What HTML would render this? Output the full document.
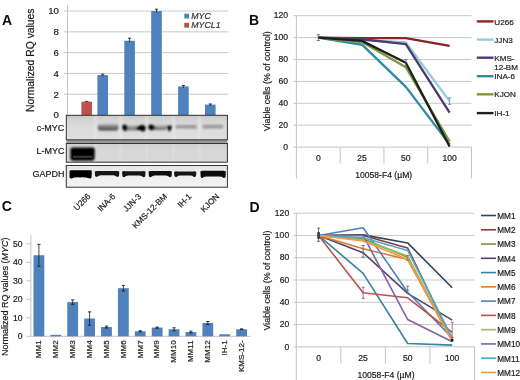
<!DOCTYPE html>
<html><head><meta charset="utf-8"><style>
html,body{margin:0;padding:0;background:#fff;}
svg{display:block;font-family:"Liberation Sans", sans-serif;will-change:transform;filter:blur(0.35px);}
</style></head><body>
<svg width="520" height="380" viewBox="0 0 520 380">
<rect width="520" height="380" fill="#fff"/>
<text x="1.9" y="24.7" font-size="14" text-anchor="start" font-weight="bold" fill="#0a0a0a">A</text>
<text x="34.1" y="60.2" font-size="10.35" text-anchor="middle" fill="#1c1c1c" stroke="#1c1c1c" stroke-width="0.2" transform="rotate(-90 34.1 60.2)">Normalized RQ values</text>
<line x1="67.5" y1="11.050000000000011" x2="228.5" y2="11.050000000000011" stroke="#c8c8c8" stroke-width="1"/>
<line x1="64" y1="11.050000000000011" x2="67.5" y2="11.050000000000011" stroke="#c4c4c4" stroke-width="1"/>
<line x1="67.5" y1="31.840000000000003" x2="228.5" y2="31.840000000000003" stroke="#c8c8c8" stroke-width="1"/>
<line x1="64" y1="31.840000000000003" x2="67.5" y2="31.840000000000003" stroke="#c4c4c4" stroke-width="1"/>
<line x1="67.5" y1="52.63" x2="228.5" y2="52.63" stroke="#c8c8c8" stroke-width="1"/>
<line x1="64" y1="52.63" x2="67.5" y2="52.63" stroke="#c4c4c4" stroke-width="1"/>
<line x1="67.5" y1="73.42" x2="228.5" y2="73.42" stroke="#c8c8c8" stroke-width="1"/>
<line x1="64" y1="73.42" x2="67.5" y2="73.42" stroke="#c4c4c4" stroke-width="1"/>
<line x1="67.5" y1="94.21000000000001" x2="228.5" y2="94.21000000000001" stroke="#c8c8c8" stroke-width="1"/>
<line x1="64" y1="94.21000000000001" x2="67.5" y2="94.21000000000001" stroke="#c4c4c4" stroke-width="1"/>
<text x="58.9" y="14.45" font-size="9.6" text-anchor="end" fill="#1c1c1c" stroke="#1c1c1c" stroke-width="0.2">10</text>
<text x="58.9" y="35.24" font-size="9.6" text-anchor="end" fill="#1c1c1c" stroke="#1c1c1c" stroke-width="0.2">8</text>
<text x="58.9" y="56.03" font-size="9.6" text-anchor="end" fill="#1c1c1c" stroke="#1c1c1c" stroke-width="0.2">6</text>
<text x="58.9" y="76.82" font-size="9.6" text-anchor="end" fill="#1c1c1c" stroke="#1c1c1c" stroke-width="0.2">4</text>
<text x="58.9" y="97.61" font-size="9.6" text-anchor="end" fill="#1c1c1c" stroke="#1c1c1c" stroke-width="0.2">2</text>
<text x="58.9" y="118.4" font-size="9.6" text-anchor="end" fill="#1c1c1c" stroke="#1c1c1c" stroke-width="0.2">0</text>
<line x1="67.5" y1="5.5" x2="67.5" y2="115" stroke="#c4c4c4" stroke-width="1"/>
<rect x="81.39999999999999" y="101.6944" width="10.6" height="13.305599999999998" fill="#c0504d"/>
<line x1="85.1" y1="101.38255" x2="88.29999999999998" y2="101.38255" stroke="#1a1a1a" stroke-width="0.9"/>
<rect x="97.39999999999999" y="75.0832" width="10.6" height="39.916799999999995" fill="#4f81bd"/>
<line x1="102.69999999999999" y1="74.15950000000001" x2="102.69999999999999" y2="76.5832" stroke="#1a1a1a" stroke-width="0.8"/>
<line x1="101.1" y1="74.15950000000001" x2="104.29999999999998" y2="74.15950000000001" stroke="#1a1a1a" stroke-width="0.9"/>
<rect x="124.3" y="40.779700000000005" width="10.6" height="74.2203" fill="#4f81bd"/>
<line x1="129.6" y1="38.192800000000005" x2="129.6" y2="42.279700000000005" stroke="#1a1a1a" stroke-width="0.8"/>
<line x1="128.0" y1="38.192800000000005" x2="131.2" y2="38.192800000000005" stroke="#1a1a1a" stroke-width="0.9"/>
<rect x="151.2" y="11.050000000000011" width="10.6" height="103.94999999999999" fill="#4f81bd"/>
<line x1="156.5" y1="9.190750000000005" x2="156.5" y2="12.550000000000011" stroke="#1a1a1a" stroke-width="0.8"/>
<line x1="154.9" y1="9.190750000000005" x2="158.1" y2="9.190750000000005" stroke="#1a1a1a" stroke-width="0.9"/>
<rect x="178.10000000000002" y="86.41375" width="10.6" height="28.586250000000007" fill="#4f81bd"/>
<line x1="183.40000000000003" y1="85.59400000000001" x2="183.40000000000003" y2="87.91375" stroke="#1a1a1a" stroke-width="0.8"/>
<line x1="181.80000000000004" y1="85.59400000000001" x2="185.00000000000003" y2="85.59400000000001" stroke="#1a1a1a" stroke-width="0.9"/>
<rect x="205.0" y="104.605" width="10.6" height="10.394999999999996" fill="#4f81bd"/>
<line x1="210.3" y1="103.99315" x2="210.3" y2="106.105" stroke="#1a1a1a" stroke-width="0.8"/>
<line x1="208.70000000000002" y1="103.99315" x2="211.9" y2="103.99315" stroke="#1a1a1a" stroke-width="0.9"/>
<rect x="184.3" y="13.7" width="4.8" height="4.8" fill="#4f81bd"/>
<rect x="184.3" y="22.8" width="4.8" height="4.8" fill="#b9503a"/>
<text x="191.3" y="18.6" font-size="8.8" text-anchor="start" font-style="italic" fill="#333" stroke="#333" stroke-width="0.2">MYC</text>
<text x="191.3" y="27.9" font-size="8.8" text-anchor="start" font-style="italic" fill="#333" stroke="#333" stroke-width="0.2">MYCL1</text>
<defs>
<filter id="bl1" x="-30%" y="-80%" width="160%" height="260%"><feGaussianBlur stdDeviation="0.8"/></filter>
<filter id="bl2" x="-30%" y="-80%" width="160%" height="260%"><feGaussianBlur stdDeviation="0.7"/></filter>
<filter id="bl3" x="-30%" y="-80%" width="160%" height="260%"><feGaussianBlur stdDeviation="1.2"/></filter>
<linearGradient id="gc" x1="0" y1="0" x2="0" y2="1"><stop offset="0" stop-color="#c4c4c4"/><stop offset="0.15" stop-color="#d2d2d2"/><stop offset="0.5" stop-color="#dcdcdc"/><stop offset="0.9" stop-color="#dddddd"/><stop offset="1" stop-color="#e6e6e6"/></linearGradient>
<linearGradient id="gl" x1="0" y1="0" x2="0" y2="1"><stop offset="0" stop-color="#d0d0d0"/><stop offset="0.5" stop-color="#d8d8d8"/><stop offset="1" stop-color="#d6d6d6"/></linearGradient>
<linearGradient id="gg" x1="0" y1="0" x2="0" y2="1"><stop offset="0" stop-color="#e4e4e4"/><stop offset="0.4" stop-color="#eeeeee"/><stop offset="1" stop-color="#f3f3f3"/></linearGradient>
<linearGradient id="gmid" x1="0" y1="0" x2="0" y2="1"><stop offset="0" stop-color="#b4b4b4"/><stop offset="0.6" stop-color="#8a8a8a"/><stop offset="1" stop-color="#5a5a5a"/></linearGradient>
<linearGradient id="gina" x1="0" y1="0" x2="0" y2="1"><stop offset="0" stop-color="#a8a8a8"/><stop offset="0.6" stop-color="#6a6a6a"/><stop offset="1" stop-color="#3a3a3a"/></linearGradient>
</defs>
<rect x="66.3" y="115" width="161.10000000000002" height="25" fill="url(#gc)"/>
<rect x="66.3" y="139.8" width="161.10000000000002" height="3.8" fill="#979797"/>
<rect x="66.3" y="143.4" width="161.10000000000002" height="18.8" fill="url(#gl)"/>
<rect x="66.3" y="165.3" width="161.10000000000002" height="22" fill="url(#gg)"/>
<g filter="url(#bl3)" opacity="0.55">
<rect x="94.5" y="116" width="2" height="23" fill="#f4f4f4"/>
<rect x="94.5" y="144" width="2" height="18" fill="#e8e8e8"/>
<rect x="119.5" y="116" width="2" height="23" fill="#f4f4f4"/>
<rect x="119.5" y="144" width="2" height="18" fill="#e8e8e8"/>
<rect x="145.5" y="116" width="2" height="23" fill="#f4f4f4"/>
<rect x="145.5" y="144" width="2" height="18" fill="#e8e8e8"/>
<rect x="172.5" y="116" width="2" height="23" fill="#f4f4f4"/>
<rect x="172.5" y="144" width="2" height="18" fill="#e8e8e8"/>
<rect x="198.5" y="116" width="2" height="23" fill="#f4f4f4"/>
<rect x="198.5" y="144" width="2" height="18" fill="#e8e8e8"/>
</g>
<g filter="url(#bl1)">
<rect x="97.6" y="124.2" width="21" height="6.2" rx="2.8" fill="url(#gina)"/>
<rect x="124" y="125.2" width="14" height="5" rx="1" fill="url(#gmid)"/>
<path d="M122.2,126.2 Q123,124.2 125.2,124.4 Q127.6,125 127.8,127.4 Q127.2,129.6 125.4,131.4 Q123.6,130.6 122.4,128.8 Z" fill="#000"/>
<path d="M136,127.2 Q140,124.6 144.2,125.2 L145.8,127.5 Q145.2,131.6 143.6,131.8 Q140,129.6 136,129.4 Z" fill="#000"/>
<rect x="152" y="125.2" width="14.5" height="4.8" rx="1" fill="url(#gmid)"/>
<path d="M148.2,126.4 Q149.2,124.4 151.6,124.6 Q154.4,125.2 155.6,127 Q154,128.6 152.4,130.6 Q149.6,130 148.4,128.6 Z" fill="#000"/>
<path d="M166.3,125.8 L172.1,125.8 L171.2,129.2 L169.3,131.8 L167.8,129.6 Z" fill="#000"/>
<rect x="175.5" y="125.0" width="21.5" height="3.6" rx="1.6" fill="#979797"/>
<rect x="202.4" y="124.8" width="21" height="3.6" rx="1.6" fill="#9a9a9a"/>
</g>
<g filter="url(#bl1)">
<path d="M70.4,149.4 Q70.4,147.6 72.6,147.6 L92.6,147.6 Q94.8,147.6 94.8,149.8 L94.6,158.8 Q94.2,160.8 91.4,160.7 L73.6,160.7 Q70.4,160.9 70.4,158.6 Z" fill="#050505"/>
</g>
<rect x="73" y="155.6" width="19.5" height="2.4" fill="#333" filter="url(#bl2)"/>
<g filter="url(#bl2)">
<path d="M69.6,171.2 Q69.6,170.2 71,170.2 L90.5,170.2 Q91.8,170.2 91.8,171.5 L91.6,177.2 Q91,178.8 89,178.3 Q86,177.2 80,177.4 Q74,177.2 71.5,178.4 Q69.4,178.6 69.5,177 Z" fill="#050505"/>
<path d="M94.8,171.6 Q95.8,170.7 97.8,171.0 L116.3,171.0 Q118.3,170.7 119.3,171.6 L119.0,175.89999999999998 Q118.1,177.1 116.89999999999999,176.7 Q115.3,175.2 113.3,175.2 L100.8,175.2 Q98.8,175.2 97.2,176.7 Q96.0,177.1 95.1,175.89999999999998 Z" fill="#141414"/>
<path d="M122.1,171.79999999999998 Q123.1,170.89999999999998 125.1,171.2 L142.5,171.2 Q144.5,170.89999999999998 145.5,171.79999999999998 L145.2,176.29999999999995 Q144.3,177.49999999999997 143.1,177.09999999999997 Q141.5,175.39999999999998 139.5,175.39999999999998 L128.1,175.39999999999998 Q126.1,175.39999999999998 124.5,177.09999999999997 Q123.3,177.49999999999997 122.39999999999999,176.29999999999995 Z" fill="#121212"/>
<path d="M148.6,171.6 Q149.6,170.7 151.6,171.0 L168.9,171.0 Q170.9,170.7 171.9,171.6 L171.6,176.29999999999998 Q170.70000000000002,177.5 169.5,177.1 Q167.9,175.4 165.9,175.4 L154.6,175.4 Q152.6,175.4 151.0,177.1 Q149.79999999999998,177.5 148.9,176.29999999999998 Z" fill="#101010"/>
<path d="M174.1,172.0 Q175.1,171.1 177.1,171.4 L193.3,171.4 Q195.3,171.1 196.3,172.0 L196.0,176.1 Q195.10000000000002,177.3 193.9,176.9 Q192.3,175.6 190.3,175.6 L180.1,175.6 Q178.1,175.6 176.5,176.9 Q175.29999999999998,177.3 174.4,176.1 Z" fill="#141414"/>
<path d="M200.4,171.4 Q201.4,170.5 203.4,170.8 L222.8,170.8 Q224.8,170.5 225.8,171.4 L225.5,177.0 Q224.60000000000002,178.20000000000002 223.4,177.8 Q221.8,176.60000000000002 219.8,176.60000000000002 L206.4,176.60000000000002 Q204.4,176.60000000000002 202.8,177.8 Q201.6,178.20000000000002 200.70000000000002,177.0 Z" fill="#080808"/>
</g>
<rect x="66.3" y="115.3" width="161.10000000000002" height="24.5" fill="none" stroke="#333" stroke-width="1"/>
<rect x="66.3" y="143.5" width="161.10000000000002" height="18.7" fill="none" stroke="#333" stroke-width="1"/>
<rect x="66.3" y="165.5" width="161.10000000000002" height="21.7" fill="none" stroke="#333" stroke-width="1"/>
<text x="64.2" y="131.0" font-size="9" text-anchor="end" fill="#1a1a1a" stroke="#1a1a1a" stroke-width="0.2">c-MYC</text>
<text x="64.5" y="154.3" font-size="9" text-anchor="end" fill="#1a1a1a" stroke="#1a1a1a" stroke-width="0.2">L-MYC</text>
<text x="64.4" y="177.1" font-size="9" text-anchor="end" fill="#1a1a1a" stroke="#1a1a1a" stroke-width="0.2">GAPDH</text>
<text x="91.0" y="197.0" font-size="8.3" text-anchor="end" fill="#222" stroke="#222" stroke-width="0.2" transform="rotate(-45 91.0 197.0)">U266</text>
<text x="115.9" y="197.0" font-size="8.3" text-anchor="end" fill="#222" stroke="#222" stroke-width="0.2" transform="rotate(-45 115.9 197.0)">INA-6</text>
<text x="141.8" y="197.0" font-size="8.3" text-anchor="end" fill="#222" stroke="#222" stroke-width="0.2" transform="rotate(-45 141.8 197.0)">JJN-3</text>
<text x="167.6" y="197.0" font-size="8.3" text-anchor="end" fill="#222" stroke="#222" stroke-width="0.2" transform="rotate(-45 167.6 197.0)">KMS-12-BM</text>
<text x="192.0" y="197.0" font-size="8.3" text-anchor="end" fill="#222" stroke="#222" stroke-width="0.2" transform="rotate(-45 192.0 197.0)">IH-1</text>
<text x="219.7" y="197.0" font-size="8.3" text-anchor="end" fill="#222" stroke="#222" stroke-width="0.2" transform="rotate(-45 219.7 197.0)">KJON</text>
<text x="249.1" y="24.7" font-size="14" text-anchor="start" font-weight="bold" fill="#0a0a0a">B</text>
<text x="269.8" y="81.2" font-size="8.9" text-anchor="middle" fill="#1c1c1c" stroke="#1c1c1c" stroke-width="0.2" transform="rotate(-90 269.8 81.2)">Viable cells (% of control)</text>
<line x1="296.4" y1="15.699999999999989" x2="471.5" y2="15.699999999999989" stroke="#c8c8c8" stroke-width="1"/>
<line x1="296.4" y1="37.599999999999994" x2="471.5" y2="37.599999999999994" stroke="#c8c8c8" stroke-width="1"/>
<line x1="296.4" y1="59.5" x2="471.5" y2="59.5" stroke="#c8c8c8" stroke-width="1"/>
<line x1="296.4" y1="81.39999999999999" x2="471.5" y2="81.39999999999999" stroke="#c8c8c8" stroke-width="1"/>
<line x1="296.4" y1="103.3" x2="471.5" y2="103.3" stroke="#c8c8c8" stroke-width="1"/>
<line x1="296.4" y1="125.19999999999999" x2="471.5" y2="125.19999999999999" stroke="#c8c8c8" stroke-width="1"/>
<line x1="293.4" y1="15.699999999999989" x2="296.4" y2="15.699999999999989" stroke="#c4c4c4" stroke-width="1"/>
<text x="288" y="18.4" font-size="8.6" text-anchor="end" fill="#1c1c1c" stroke="#1c1c1c" stroke-width="0.2">120</text>
<line x1="293.4" y1="37.599999999999994" x2="296.4" y2="37.599999999999994" stroke="#c4c4c4" stroke-width="1"/>
<text x="288" y="40.3" font-size="8.6" text-anchor="end" fill="#1c1c1c" stroke="#1c1c1c" stroke-width="0.2">100</text>
<line x1="293.4" y1="59.5" x2="296.4" y2="59.5" stroke="#c4c4c4" stroke-width="1"/>
<text x="288" y="62.2" font-size="8.6" text-anchor="end" fill="#1c1c1c" stroke="#1c1c1c" stroke-width="0.2">80</text>
<line x1="293.4" y1="81.39999999999999" x2="296.4" y2="81.39999999999999" stroke="#c4c4c4" stroke-width="1"/>
<text x="288" y="84.1" font-size="8.6" text-anchor="end" fill="#1c1c1c" stroke="#1c1c1c" stroke-width="0.2">60</text>
<line x1="293.4" y1="103.3" x2="296.4" y2="103.3" stroke="#c4c4c4" stroke-width="1"/>
<text x="288" y="106.0" font-size="8.6" text-anchor="end" fill="#1c1c1c" stroke="#1c1c1c" stroke-width="0.2">40</text>
<line x1="293.4" y1="125.19999999999999" x2="296.4" y2="125.19999999999999" stroke="#c4c4c4" stroke-width="1"/>
<text x="288" y="127.9" font-size="8.6" text-anchor="end" fill="#1c1c1c" stroke="#1c1c1c" stroke-width="0.2">20</text>
<line x1="293.4" y1="147.1" x2="296.4" y2="147.1" stroke="#c4c4c4" stroke-width="1"/>
<text x="288" y="149.8" font-size="8.6" text-anchor="end" fill="#1c1c1c" stroke="#1c1c1c" stroke-width="0.2">0</text>
<line x1="296.4" y1="147.1" x2="471.5" y2="147.1" stroke="#c4c4c4" stroke-width="1"/>
<line x1="296.4" y1="15.699999999999989" x2="296.4" y2="178.5" stroke="#c4c4c4" stroke-width="1"/>
<line x1="471.5" y1="147.1" x2="471.5" y2="178.5" stroke="#c4c4c4" stroke-width="1"/>
<line x1="340.17499999999995" y1="147.1" x2="340.17499999999995" y2="163.5" stroke="#c4c4c4" stroke-width="1"/>
<line x1="383.95" y1="147.1" x2="383.95" y2="163.5" stroke="#c4c4c4" stroke-width="1"/>
<line x1="427.725" y1="147.1" x2="427.725" y2="163.5" stroke="#c4c4c4" stroke-width="1"/>
<text x="318.29" y="160.6" font-size="8.6" text-anchor="middle" fill="#1c1c1c" stroke="#1c1c1c" stroke-width="0.2">0</text>
<text x="362.06" y="160.6" font-size="8.6" text-anchor="middle" fill="#1c1c1c" stroke="#1c1c1c" stroke-width="0.2">25</text>
<text x="405.84" y="160.6" font-size="8.6" text-anchor="middle" fill="#1c1c1c" stroke="#1c1c1c" stroke-width="0.2">50</text>
<text x="449.61" y="160.6" font-size="8.6" text-anchor="middle" fill="#1c1c1c" stroke="#1c1c1c" stroke-width="0.2">100</text>
<text x="383.7" y="177.8" font-size="8.6" text-anchor="middle" fill="#1c1c1c" stroke="#1c1c1c" stroke-width="0.2">10058-F4 (µM)</text>
<polyline points="318.29,37.60 362.06,38.15 405.84,38.15 449.61,45.81" fill="none" stroke="#8b2323" stroke-width="2.35" stroke-linejoin="round"/>
<polyline points="318.29,37.60 362.06,39.79 405.84,42.53 449.61,101.11" fill="none" stroke="#96cddb" stroke-width="2.35" stroke-linejoin="round"/>
<polyline points="318.29,37.60 362.06,39.24 405.84,44.17 449.61,112.61" fill="none" stroke="#4b3b72" stroke-width="2.35" stroke-linejoin="round"/>
<polyline points="318.29,37.60 362.06,44.72 405.84,86.88 449.61,144.36" fill="none" stroke="#2f8aa3" stroke-width="2.35" stroke-linejoin="round"/>
<polyline points="318.29,37.60 362.06,41.98 405.84,67.16 449.61,141.62" fill="none" stroke="#7a9a3c" stroke-width="2.35" stroke-linejoin="round"/>
<polyline points="318.29,37.60 362.06,40.88 405.84,62.78 449.61,146.55" fill="none" stroke="#1e1e1e" stroke-width="2.35" stroke-linejoin="round"/>
<line x1="318.29" y1="34.64" x2="318.29" y2="40.56" stroke="#555" stroke-width="0.8"/>
<line x1="316.69" y1="34.64" x2="319.89" y2="34.64" stroke="#555" stroke-width="0.8"/>
<line x1="316.69" y1="40.56" x2="319.89" y2="40.56" stroke="#555" stroke-width="0.8"/>
<line x1="449.61" y1="97.82" x2="449.61" y2="104.39" stroke="#6a8a95" stroke-width="0.8"/>
<line x1="448.01" y1="97.82" x2="451.21" y2="97.82" stroke="#6a8a95" stroke-width="0.8"/>
<line x1="448.01" y1="104.39" x2="451.21" y2="104.39" stroke="#6a8a95" stroke-width="0.8"/>
<line x1="405.84" y1="59.5" x2="405.84" y2="66.07" stroke="#666" stroke-width="0.8"/>
<line x1="404.24" y1="59.5" x2="407.44" y2="59.5" stroke="#666" stroke-width="0.8"/>
<line x1="404.24" y1="66.07" x2="407.44" y2="66.07" stroke="#666" stroke-width="0.8"/>
<line x1="476.8" y1="21.4" x2="493.5" y2="21.4" stroke="#8b2323" stroke-width="2.4"/>
<text x="494.3" y="24.5" font-size="8.1" text-anchor="start" fill="#1c1c1c" stroke="#1c1c1c" stroke-width="0.2">U266</text>
<line x1="476.8" y1="39.6" x2="493.5" y2="39.6" stroke="#96cddb" stroke-width="2.4"/>
<text x="494.3" y="42.7" font-size="8.1" text-anchor="start" fill="#1c1c1c" stroke="#1c1c1c" stroke-width="0.2">JJN3</text>
<line x1="476.8" y1="57.7" x2="493.5" y2="57.7" stroke="#4b3b72" stroke-width="2.4"/>
<text x="494.3" y="60.8" font-size="8.1" text-anchor="start" fill="#1c1c1c" stroke="#1c1c1c" stroke-width="0.2">KMS-</text>
<line x1="476.8" y1="76.2" x2="493.5" y2="76.2" stroke="#2f8aa3" stroke-width="2.4"/>
<text x="494.3" y="79.3" font-size="8.1" text-anchor="start" fill="#1c1c1c" stroke="#1c1c1c" stroke-width="0.2">INA-6</text>
<line x1="476.8" y1="94.3" x2="493.5" y2="94.3" stroke="#7a9a3c" stroke-width="2.4"/>
<text x="494.3" y="97.4" font-size="8.1" text-anchor="start" fill="#1c1c1c" stroke="#1c1c1c" stroke-width="0.2">KJON</text>
<line x1="476.8" y1="113.1" x2="493.5" y2="113.1" stroke="#1e1e1e" stroke-width="2.4"/>
<text x="494.3" y="116.2" font-size="8.1" text-anchor="start" fill="#1c1c1c" stroke="#1c1c1c" stroke-width="0.2">IH-1</text>
<text x="494.3" y="70.3" font-size="8" text-anchor="start" fill="#1c1c1c" stroke="#1c1c1c" stroke-width="0.2">12-BM</text>
<text x="1.7" y="211.4" font-size="14" text-anchor="start" font-weight="bold" fill="#0a0a0a">C</text>
<text x="7.6" y="296.8" font-size="9" text-anchor="middle" fill="#1c1c1c" stroke="#1c1c1c" stroke-width="0.2" transform="rotate(-90 7.6 296.8)">Normalized RQ values (<tspan font-style="italic">MYC</tspan>)</text>
<line x1="30.9" y1="235.2" x2="30.9" y2="336.3" stroke="#c4c4c4" stroke-width="1"/>
<line x1="30.9" y1="336.3" x2="250.5" y2="336.3" stroke="#c4c4c4" stroke-width="1"/>
<line x1="26.5" y1="243.8" x2="30.9" y2="243.8" stroke="#c4c4c4" stroke-width="1"/>
<text x="22.5" y="246.9" font-size="8.6" text-anchor="end" fill="#1c1c1c" stroke="#1c1c1c" stroke-width="0.2">50</text>
<line x1="26.5" y1="262.3" x2="30.9" y2="262.3" stroke="#c4c4c4" stroke-width="1"/>
<text x="22.5" y="265.4" font-size="8.6" text-anchor="end" fill="#1c1c1c" stroke="#1c1c1c" stroke-width="0.2">40</text>
<line x1="26.5" y1="280.8" x2="30.9" y2="280.8" stroke="#c4c4c4" stroke-width="1"/>
<text x="22.5" y="283.9" font-size="8.6" text-anchor="end" fill="#1c1c1c" stroke="#1c1c1c" stroke-width="0.2">30</text>
<line x1="26.5" y1="299.3" x2="30.9" y2="299.3" stroke="#c4c4c4" stroke-width="1"/>
<text x="22.5" y="302.4" font-size="8.6" text-anchor="end" fill="#1c1c1c" stroke="#1c1c1c" stroke-width="0.2">20</text>
<line x1="26.5" y1="317.8" x2="30.9" y2="317.8" stroke="#c4c4c4" stroke-width="1"/>
<text x="22.5" y="320.9" font-size="8.6" text-anchor="end" fill="#1c1c1c" stroke="#1c1c1c" stroke-width="0.2">10</text>
<line x1="26.5" y1="336.3" x2="30.9" y2="336.3" stroke="#c4c4c4" stroke-width="1"/>
<text x="22.5" y="339.4" font-size="8.6" text-anchor="end" fill="#1c1c1c" stroke="#1c1c1c" stroke-width="0.2">0</text>
<rect x="33.5" y="255.27" width="10.8" height="81.03" fill="#4f81bd"/>
<line x1="38.9" y1="244.36" x2="38.9" y2="266.19" stroke="#1a1a1a" stroke-width="0.8"/>
<line x1="37.3" y1="244.36" x2="40.5" y2="244.36" stroke="#1a1a1a" stroke-width="0.9"/>
<line x1="37.3" y1="266.19" x2="40.5" y2="266.19" stroke="#1a1a1a" stroke-width="0.9"/>
<text x="41.2" y="340.4" font-size="8" text-anchor="end" fill="#1c1c1c" stroke="#1c1c1c" stroke-width="0.2" transform="rotate(-90 41.2 340.4)">MM1</text>
<rect x="50.39" y="334.82" width="10.8" height="1.48" fill="#4f81bd"/>
<text x="58.09" y="340.4" font-size="8" text-anchor="end" fill="#1c1c1c" stroke="#1c1c1c" stroke-width="0.2" transform="rotate(-90 58.09 340.4)">MM2</text>
<rect x="67.28" y="302.07" width="10.8" height="34.23" fill="#4f81bd"/>
<line x1="72.68" y1="299.86" x2="72.68" y2="304.3" stroke="#1a1a1a" stroke-width="0.8"/>
<line x1="71.08" y1="299.86" x2="74.28" y2="299.86" stroke="#1a1a1a" stroke-width="0.9"/>
<line x1="71.08" y1="304.3" x2="74.28" y2="304.3" stroke="#1a1a1a" stroke-width="0.9"/>
<text x="74.98" y="340.4" font-size="8" text-anchor="end" fill="#1c1c1c" stroke="#1c1c1c" stroke-width="0.2" transform="rotate(-90 74.98 340.4)">MM3</text>
<rect x="84.18" y="318.54" width="10.8" height="17.76" fill="#4f81bd"/>
<line x1="89.58" y1="311.88" x2="89.58" y2="325.2" stroke="#1a1a1a" stroke-width="0.8"/>
<line x1="87.98" y1="311.88" x2="91.18" y2="311.88" stroke="#1a1a1a" stroke-width="0.9"/>
<line x1="87.98" y1="325.2" x2="91.18" y2="325.2" stroke="#1a1a1a" stroke-width="0.9"/>
<text x="91.88" y="340.4" font-size="8" text-anchor="end" fill="#1c1c1c" stroke="#1c1c1c" stroke-width="0.2" transform="rotate(-90 91.88 340.4)">MM4</text>
<rect x="101.07" y="327.05" width="10.8" height="9.25" fill="#4f81bd"/>
<line x1="106.47" y1="326.12" x2="106.47" y2="327.98" stroke="#1a1a1a" stroke-width="0.8"/>
<line x1="104.87" y1="326.12" x2="108.07" y2="326.12" stroke="#1a1a1a" stroke-width="0.9"/>
<line x1="104.87" y1="327.98" x2="108.07" y2="327.98" stroke="#1a1a1a" stroke-width="0.9"/>
<text x="108.77" y="340.4" font-size="8" text-anchor="end" fill="#1c1c1c" stroke="#1c1c1c" stroke-width="0.2" transform="rotate(-90 108.77 340.4)">MM5</text>
<rect x="117.96" y="288.2" width="10.8" height="48.1" fill="#4f81bd"/>
<line x1="123.36" y1="285.43" x2="123.36" y2="290.98" stroke="#1a1a1a" stroke-width="0.8"/>
<line x1="121.76" y1="285.43" x2="124.96" y2="285.43" stroke="#1a1a1a" stroke-width="0.9"/>
<line x1="121.76" y1="290.98" x2="124.96" y2="290.98" stroke="#1a1a1a" stroke-width="0.9"/>
<text x="125.66" y="340.4" font-size="8" text-anchor="end" fill="#1c1c1c" stroke="#1c1c1c" stroke-width="0.2" transform="rotate(-90 125.66 340.4)">MM6</text>
<rect x="134.85" y="331.31" width="10.8" height="5.0" fill="#4f81bd"/>
<line x1="140.25" y1="330.75" x2="140.25" y2="331.86" stroke="#1a1a1a" stroke-width="0.8"/>
<line x1="138.65" y1="330.75" x2="141.85" y2="330.75" stroke="#1a1a1a" stroke-width="0.9"/>
<line x1="138.65" y1="331.86" x2="141.85" y2="331.86" stroke="#1a1a1a" stroke-width="0.9"/>
<text x="142.55" y="340.4" font-size="8" text-anchor="end" fill="#1c1c1c" stroke="#1c1c1c" stroke-width="0.2" transform="rotate(-90 142.55 340.4)">MM7</text>
<rect x="151.75" y="327.61" width="10.8" height="8.69" fill="#4f81bd"/>
<line x1="157.15" y1="327.05" x2="157.15" y2="328.16" stroke="#1a1a1a" stroke-width="0.8"/>
<line x1="155.55" y1="327.05" x2="158.75" y2="327.05" stroke="#1a1a1a" stroke-width="0.9"/>
<line x1="155.55" y1="328.16" x2="158.75" y2="328.16" stroke="#1a1a1a" stroke-width="0.9"/>
<text x="159.45" y="340.4" font-size="8" text-anchor="end" fill="#1c1c1c" stroke="#1c1c1c" stroke-width="0.2" transform="rotate(-90 159.45 340.4)">MM9</text>
<rect x="168.64" y="329.27" width="10.8" height="7.03" fill="#4f81bd"/>
<line x1="174.04" y1="327.79" x2="174.04" y2="330.75" stroke="#1a1a1a" stroke-width="0.8"/>
<line x1="172.44" y1="327.79" x2="175.64" y2="327.79" stroke="#1a1a1a" stroke-width="0.9"/>
<line x1="172.44" y1="330.75" x2="175.64" y2="330.75" stroke="#1a1a1a" stroke-width="0.9"/>
<text x="176.34" y="340.4" font-size="8" text-anchor="end" fill="#1c1c1c" stroke="#1c1c1c" stroke-width="0.2" transform="rotate(-90 176.34 340.4)">MM10</text>
<rect x="185.53" y="332.05" width="10.8" height="4.25" fill="#4f81bd"/>
<line x1="190.93" y1="331.12" x2="190.93" y2="332.97" stroke="#1a1a1a" stroke-width="0.8"/>
<line x1="189.33" y1="331.12" x2="192.53" y2="331.12" stroke="#1a1a1a" stroke-width="0.9"/>
<line x1="189.33" y1="332.97" x2="192.53" y2="332.97" stroke="#1a1a1a" stroke-width="0.9"/>
<text x="193.23" y="340.4" font-size="8" text-anchor="end" fill="#1c1c1c" stroke="#1c1c1c" stroke-width="0.2" transform="rotate(-90 193.23 340.4)">MM11</text>
<rect x="202.42" y="322.98" width="10.8" height="13.32" fill="#4f81bd"/>
<line x1="207.82" y1="321.5" x2="207.82" y2="324.46" stroke="#1a1a1a" stroke-width="0.8"/>
<line x1="206.22" y1="321.5" x2="209.42" y2="321.5" stroke="#1a1a1a" stroke-width="0.9"/>
<line x1="206.22" y1="324.46" x2="209.42" y2="324.46" stroke="#1a1a1a" stroke-width="0.9"/>
<text x="210.12" y="340.4" font-size="8" text-anchor="end" fill="#1c1c1c" stroke="#1c1c1c" stroke-width="0.2" transform="rotate(-90 210.12 340.4)">MM12</text>
<rect x="219.32" y="334.26" width="10.8" height="2.04" fill="#4f81bd"/>
<text x="227.02" y="340.4" font-size="8" text-anchor="end" fill="#1c1c1c" stroke="#1c1c1c" stroke-width="0.2" transform="rotate(-90 227.02 340.4)">IH-1</text>
<rect x="236.21" y="329.27" width="10.8" height="7.03" fill="#4f81bd"/>
<line x1="241.61" y1="328.9" x2="241.61" y2="329.64" stroke="#1a1a1a" stroke-width="0.8"/>
<line x1="240.01" y1="328.9" x2="243.21" y2="328.9" stroke="#1a1a1a" stroke-width="0.9"/>
<line x1="240.01" y1="329.64" x2="243.21" y2="329.64" stroke="#1a1a1a" stroke-width="0.9"/>
<text x="243.91" y="340.4" font-size="8" text-anchor="end" fill="#1c1c1c" stroke="#1c1c1c" stroke-width="0.2" transform="rotate(-90 243.91 340.4)">KMS-12-</text>
<text x="249.4" y="211.7" font-size="14" text-anchor="start" font-weight="bold" fill="#0a0a0a">D</text>
<text x="269.8" y="280.5" font-size="8.9" text-anchor="middle" fill="#1c1c1c" stroke="#1c1c1c" stroke-width="0.2" transform="rotate(-90 269.8 280.5)">Viable cells (% of control)</text>
<line x1="296.3" y1="213.204" x2="474.5" y2="213.204" stroke="#c8c8c8" stroke-width="1"/>
<line x1="296.3" y1="235.47000000000003" x2="474.5" y2="235.47000000000003" stroke="#c8c8c8" stroke-width="1"/>
<line x1="296.3" y1="257.736" x2="474.5" y2="257.736" stroke="#c8c8c8" stroke-width="1"/>
<line x1="296.3" y1="280.002" x2="474.5" y2="280.002" stroke="#c8c8c8" stroke-width="1"/>
<line x1="296.3" y1="302.26800000000003" x2="474.5" y2="302.26800000000003" stroke="#c8c8c8" stroke-width="1"/>
<line x1="296.3" y1="324.534" x2="474.5" y2="324.534" stroke="#c8c8c8" stroke-width="1"/>
<line x1="293.6" y1="213.204" x2="296.3" y2="213.204" stroke="#c4c4c4" stroke-width="1"/>
<text x="289.2" y="215.9" font-size="8.6" text-anchor="end" fill="#1c1c1c" stroke="#1c1c1c" stroke-width="0.2">120</text>
<line x1="293.6" y1="235.47000000000003" x2="296.3" y2="235.47000000000003" stroke="#c4c4c4" stroke-width="1"/>
<text x="289.2" y="238.17" font-size="8.6" text-anchor="end" fill="#1c1c1c" stroke="#1c1c1c" stroke-width="0.2">100</text>
<line x1="293.6" y1="257.736" x2="296.3" y2="257.736" stroke="#c4c4c4" stroke-width="1"/>
<text x="289.2" y="260.44" font-size="8.6" text-anchor="end" fill="#1c1c1c" stroke="#1c1c1c" stroke-width="0.2">80</text>
<line x1="293.6" y1="280.002" x2="296.3" y2="280.002" stroke="#c4c4c4" stroke-width="1"/>
<text x="289.2" y="282.7" font-size="8.6" text-anchor="end" fill="#1c1c1c" stroke="#1c1c1c" stroke-width="0.2">60</text>
<line x1="293.6" y1="302.26800000000003" x2="296.3" y2="302.26800000000003" stroke="#c4c4c4" stroke-width="1"/>
<text x="289.2" y="304.97" font-size="8.6" text-anchor="end" fill="#1c1c1c" stroke="#1c1c1c" stroke-width="0.2">40</text>
<line x1="293.6" y1="324.534" x2="296.3" y2="324.534" stroke="#c4c4c4" stroke-width="1"/>
<text x="289.2" y="327.23" font-size="8.6" text-anchor="end" fill="#1c1c1c" stroke="#1c1c1c" stroke-width="0.2">20</text>
<line x1="293.6" y1="346.8" x2="296.3" y2="346.8" stroke="#c4c4c4" stroke-width="1"/>
<text x="289.2" y="349.5" font-size="8.6" text-anchor="end" fill="#1c1c1c" stroke="#1c1c1c" stroke-width="0.2">0</text>
<line x1="296.3" y1="346.8" x2="474.5" y2="346.8" stroke="#c4c4c4" stroke-width="1"/>
<line x1="296.3" y1="213.204" x2="296.3" y2="380" stroke="#c4c4c4" stroke-width="1"/>
<line x1="474.5" y1="346.8" x2="474.5" y2="380" stroke="#c4c4c4" stroke-width="1"/>
<line x1="340.85" y1="346.8" x2="340.85" y2="363.6" stroke="#c4c4c4" stroke-width="1"/>
<line x1="385.4" y1="346.8" x2="385.4" y2="363.6" stroke="#c4c4c4" stroke-width="1"/>
<line x1="429.95" y1="346.8" x2="429.95" y2="363.6" stroke="#c4c4c4" stroke-width="1"/>
<text x="318.57" y="360.5" font-size="8.6" text-anchor="middle" fill="#1c1c1c" stroke="#1c1c1c" stroke-width="0.2">0</text>
<text x="363.12" y="360.5" font-size="8.6" text-anchor="middle" fill="#1c1c1c" stroke="#1c1c1c" stroke-width="0.2">25</text>
<text x="407.68" y="360.5" font-size="8.6" text-anchor="middle" fill="#1c1c1c" stroke="#1c1c1c" stroke-width="0.2">50</text>
<text x="452.23" y="360.5" font-size="8.6" text-anchor="middle" fill="#1c1c1c" stroke="#1c1c1c" stroke-width="0.2">100</text>
<text x="386" y="377.7" font-size="8.6" text-anchor="middle" fill="#1c1c1c" stroke="#1c1c1c" stroke-width="0.2">10058-F4 (µM)</text>
<polyline points="318.57,235.47 363.12,234.91 407.68,242.93 452.23,287.80" fill="none" stroke="#2c4560" stroke-width="1.6" stroke-linejoin="round"/>
<polyline points="318.57,235.47 363.12,235.47 407.68,248.05 452.23,340.12" fill="none" stroke="#8c3b35" stroke-width="1.6" stroke-linejoin="round"/>
<polyline points="318.57,235.47 363.12,238.81 407.68,257.18 452.23,341.23" fill="none" stroke="#76923c" stroke-width="1.6" stroke-linejoin="round"/>
<polyline points="318.57,235.47 363.12,252.73 407.68,293.36 452.23,320.08" fill="none" stroke="#52436e" stroke-width="1.6" stroke-linejoin="round"/>
<polyline points="318.57,235.47 363.12,273.32 407.68,343.46 452.23,345.13" fill="none" stroke="#31859c" stroke-width="1.6" stroke-linejoin="round"/>
<polyline points="318.57,235.47 363.12,248.83 407.68,259.41 452.23,341.23" fill="none" stroke="#dc7a30" stroke-width="1.6" stroke-linejoin="round"/>
<polyline points="318.57,235.47 363.12,227.68 407.68,292.25 452.23,337.89" fill="none" stroke="#4f81bd" stroke-width="1.6" stroke-linejoin="round"/>
<polyline points="318.57,235.47 363.12,292.80 407.68,297.81 452.23,332.33" fill="none" stroke="#c0504d" stroke-width="1.6" stroke-linejoin="round"/>
<polyline points="318.57,235.47 363.12,239.92 407.68,256.07 452.23,341.23" fill="none" stroke="#9bbb59" stroke-width="1.6" stroke-linejoin="round"/>
<polyline points="318.57,235.47 363.12,235.47 407.68,319.52 452.23,341.79" fill="none" stroke="#8064a2" stroke-width="1.6" stroke-linejoin="round"/>
<polyline points="318.57,235.47 363.12,237.70 407.68,250.50 452.23,337.89" fill="none" stroke="#4bacc6" stroke-width="1.6" stroke-linejoin="round"/>
<polyline points="318.57,235.47 363.12,241.04 407.68,259.41 452.23,341.23" fill="none" stroke="#f79646" stroke-width="1.6" stroke-linejoin="round"/>
<line x1="318.57" y1="228.12" x2="318.57" y2="241.37" stroke="#555" stroke-width="0.8"/>
<line x1="316.97" y1="228.12" x2="320.18" y2="228.12" stroke="#555" stroke-width="0.8"/>
<line x1="316.97" y1="241.37" x2="320.18" y2="241.37" stroke="#555" stroke-width="0.8"/>
<rect x="317.27" y="232.13" width="2.6" height="6.68" fill="#3a3a3a"/>
<line x1="363.12" y1="245.49" x2="363.12" y2="257.18" stroke="#555" stroke-width="0.8"/>
<line x1="361.52" y1="245.49" x2="364.73" y2="245.49" stroke="#555" stroke-width="0.8"/>
<line x1="361.52" y1="257.18" x2="364.73" y2="257.18" stroke="#555" stroke-width="0.8"/>
<line x1="363.12" y1="287.24" x2="363.12" y2="298.37" stroke="#666" stroke-width="0.8"/>
<line x1="361.52" y1="287.24" x2="364.73" y2="287.24" stroke="#666" stroke-width="0.8"/>
<line x1="361.52" y1="298.37" x2="364.73" y2="298.37" stroke="#666" stroke-width="0.8"/>
<line x1="407.68" y1="286.13" x2="407.68" y2="290.24" stroke="#666" stroke-width="0.8"/>
<line x1="406.07" y1="286.13" x2="409.28" y2="286.13" stroke="#666" stroke-width="0.8"/>
<line x1="406.07" y1="290.24" x2="409.28" y2="290.24" stroke="#666" stroke-width="0.8"/>
<line x1="407.68" y1="255.51" x2="407.68" y2="260.52" stroke="#777" stroke-width="0.8"/>
<line x1="406.07" y1="255.51" x2="409.28" y2="255.51" stroke="#777" stroke-width="0.8"/>
<line x1="406.07" y1="260.52" x2="409.28" y2="260.52" stroke="#777" stroke-width="0.8"/>
<line x1="452.23" y1="322.31" x2="452.23" y2="337.89" stroke="#a05050" stroke-width="0.8"/>
<line x1="450.62" y1="322.31" x2="453.83" y2="322.31" stroke="#a05050" stroke-width="0.8"/>
<line x1="450.62" y1="337.89" x2="453.83" y2="337.89" stroke="#a05050" stroke-width="0.8"/>
<rect x="451.03" y="339.01" width="2.4" height="2.4" fill="#111"/>
<line x1="481" y1="215.5" x2="496" y2="215.5" stroke="#2c4560" stroke-width="1.6"/>
<text x="497.3" y="218.8" font-size="8.2" text-anchor="start" fill="#1c1c1c" stroke="#1c1c1c" stroke-width="0.2">MM1</text>
<line x1="481" y1="229.77" x2="496" y2="229.77" stroke="#8c3b35" stroke-width="1.6"/>
<text x="497.3" y="233.07" font-size="8.2" text-anchor="start" fill="#1c1c1c" stroke="#1c1c1c" stroke-width="0.2">MM2</text>
<line x1="481" y1="244.04" x2="496" y2="244.04" stroke="#76923c" stroke-width="1.6"/>
<text x="497.3" y="247.34" font-size="8.2" text-anchor="start" fill="#1c1c1c" stroke="#1c1c1c" stroke-width="0.2">MM3</text>
<line x1="481" y1="258.31" x2="496" y2="258.31" stroke="#52436e" stroke-width="1.6"/>
<text x="497.3" y="261.61" font-size="8.2" text-anchor="start" fill="#1c1c1c" stroke="#1c1c1c" stroke-width="0.2">MM4</text>
<line x1="481" y1="272.58" x2="496" y2="272.58" stroke="#31859c" stroke-width="1.6"/>
<text x="497.3" y="275.88" font-size="8.2" text-anchor="start" fill="#1c1c1c" stroke="#1c1c1c" stroke-width="0.2">MM5</text>
<line x1="481" y1="286.85" x2="496" y2="286.85" stroke="#dc7a30" stroke-width="1.6"/>
<text x="497.3" y="290.15" font-size="8.2" text-anchor="start" fill="#1c1c1c" stroke="#1c1c1c" stroke-width="0.2">MM6</text>
<line x1="481" y1="301.12" x2="496" y2="301.12" stroke="#4f81bd" stroke-width="1.6"/>
<text x="497.3" y="304.42" font-size="8.2" text-anchor="start" fill="#1c1c1c" stroke="#1c1c1c" stroke-width="0.2">MM7</text>
<line x1="481" y1="315.39" x2="496" y2="315.39" stroke="#c0504d" stroke-width="1.6"/>
<text x="497.3" y="318.69" font-size="8.2" text-anchor="start" fill="#1c1c1c" stroke="#1c1c1c" stroke-width="0.2">MM8</text>
<line x1="481" y1="329.66" x2="496" y2="329.66" stroke="#9bbb59" stroke-width="1.6"/>
<text x="497.3" y="332.96" font-size="8.2" text-anchor="start" fill="#1c1c1c" stroke="#1c1c1c" stroke-width="0.2">MM9</text>
<line x1="481" y1="343.93" x2="496" y2="343.93" stroke="#8064a2" stroke-width="1.6"/>
<text x="497.3" y="347.23" font-size="8.2" text-anchor="start" fill="#1c1c1c" stroke="#1c1c1c" stroke-width="0.2">MM10</text>
<line x1="481" y1="358.2" x2="496" y2="358.2" stroke="#4bacc6" stroke-width="1.6"/>
<text x="497.3" y="361.5" font-size="8.2" text-anchor="start" fill="#1c1c1c" stroke="#1c1c1c" stroke-width="0.2">MM11</text>
<line x1="481" y1="372.47" x2="496" y2="372.47" stroke="#f79646" stroke-width="1.6"/>
<text x="497.3" y="375.77" font-size="8.2" text-anchor="start" fill="#1c1c1c" stroke="#1c1c1c" stroke-width="0.2">MM12</text>
</svg></body></html>
